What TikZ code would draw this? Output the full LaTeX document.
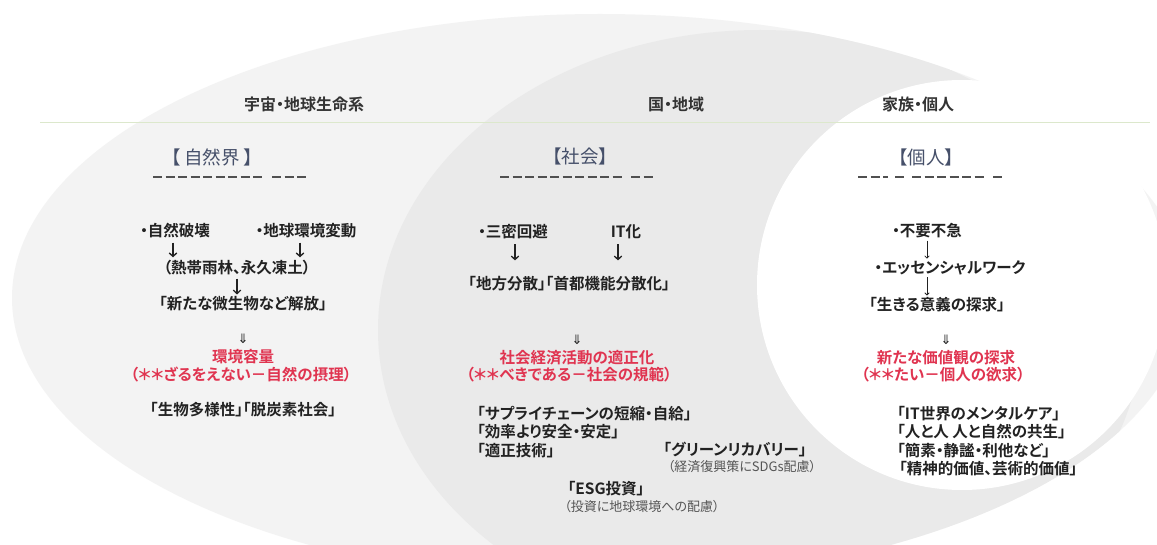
\documentclass[tikz,border=0pt]{standalone}
\usepackage{fontspec}
\setmainfont{Noto Sans CJK JP}[BoldFont={Noto Sans CJK JP Bold},RawFeature=+palt]
\newfontfamily\symfont{DejaVu Sans}
\usetikzlibrary{arrows.meta}
\definecolor{outerg}{HTML}{F3F3F3}
\definecolor{midg}{HTML}{EAEAEA}
\definecolor{txt}{HTML}{222222}
\definecolor{hdrc}{HTML}{333333}
\definecolor{ttlc}{HTML}{46506A}
\definecolor{redc}{RGB}{224,52,80}
\definecolor{graytxt}{HTML}{555555}
\definecolor{dashc}{HTML}{505050}
\definecolor{linec}{HTML}{DCE8CC}
\tikzset{
  body/.style={font=\fontsize{15.5}{18.5}\selectfont\bfseries, text=txt, inner sep=1pt},
  redt/.style={body, text=redc},
  hdr/.style={font=\fontsize{16}{18}\selectfont\bfseries, text=hdrc, inner sep=1pt},
  ttl/.style={font=\fontsize{18.5}{20}\selectfont, text=ttlc, inner sep=1pt},
  smallt/.style={font=\fontsize{13}{15}\selectfont, text=graytxt, inner sep=1pt},
  dbl/.style={font=\symfont\fontsize{13}{13}\selectfont, text=txt, inner sep=0pt},
  arr/.style={-{Straight Barb[length=3.5pt,width=7.5pt]}, line width=1.3pt, draw=txt},
  tarr/.style={-{To[length=3pt,width=5pt]}, line width=0.8pt, draw=txt},
  dsh/.style={line width=1.6pt, draw=dashc, dash pattern=on 9pt off 3.5pt}
}
\begin{document}
\begin{tikzpicture}[x=1pt,y=-1pt]
\useasboundingbox (0,0) rectangle (1157,545);
\fill[white] (0,0) rectangle (1157,545);
% background shapes
\fill[outerg] (600,298) ellipse [x radius=588pt, y radius=284pt];
\begin{scope}
  \clip (600,298) ellipse [x radius=588pt, y radius=284pt];
  \fill[midg] (760,330) ellipse [x radius=382pt, y radius=300pt];
\end{scope}
\fill[white] (962,285) circle [radius=205pt];
\draw[linec, line width=0.8pt] (40,122) -- (1150,122);

% headers
\node[hdr] (h1) at (304,104) {宇宙・地球生命系};
\node[hdr] (h2) at (676,104) {国・地域};
\node[hdr] (h3) at (918,104) {家族・個人};

% titles
\node[ttl] (t1) at (212,157) {【 自然界 】};
\node[ttl] (t2) at (580,156) {【社会】};
\node[ttl] (t3) at (926,157) {【個人】};
\draw[dsh] (153,177) -- (262,177);
\draw[dsh] (272,177) -- (306,177);
\draw[dsh] (500,177) -- (621.5,177);
\draw[dsh] (631,177) -- (652.5,177);
\draw[dsh] (858,177) -- (888,177);
\draw[dsh] (895,177) -- (904,177);
\draw[dsh] (912,177) -- (983.5,177);
\draw[dsh] (993,177) -- (1002,177);

% left column
\node[body] (a1) at (175,231) {・自然破壊};
\node[body] (a2) at (306,231) {・地球環境変動};
\node[body] (a3) at (237,268) {（熱帯雨林、永久凍土）};
\node[body] (a4) at (243,304) {「新たな微生物など解放」};
\node[dbl]  (a5) at (243,339) {⇓};
\node[redt] (a6) at (243,357) {環境容量};
\node[redt] (a7) at (241,375) {（＊＊ざるをえない－自然の摂理）};
\node[body] (a8) at (243,410) {「生物多様性」「脱炭素社会」};
\draw[arr, shorten <=3pt, shorten >=2pt] ([xshift=-2pt]a1.south) -- ([xshift=-2pt]a1.south |- a3.north);
\draw[arr, shorten <=3pt, shorten >=2pt] ([xshift=-6pt]a2.south) -- ([xshift=-6pt]a2.south |- a3.north);
\draw[arr, shorten <=2pt, shorten >=1pt] (a3.south) -- (a3.south |- a4.north);

% middle column
\node[body] (b1) at (513,232) {・三密回避};
\node[body] (b2) at (626,232) {IT化};
\node[body] (b3) at (569,284) {「地方分散」「首都機能分散化」};
\node[dbl]  (b4) at (577,340) {⇓};
\node[redt] (b5) at (577,358) {社会経済活動の適正化};
\node[redt] (b6) at (569,375) {（＊＊べきである－社会の規範）};
\node[body, anchor=north west, align=left] (b7) at (476,405)
  {「サプライチェーンの短縮・自給」\\「効率より安全・安定」\\「適正技術」};
\node[body] (b8) at (735,450) {「グリーンリカバリー」};
\node[smallt] (b9) at (742,467) {（経済復興策にSDGs配慮）};
\node[body] (b10) at (606,489) {「ESG投資」};
\node[smallt] (b11) at (642,507) {（投資に地球環境への配慮）};
\draw[arr, shorten <=4pt, shorten >=15pt] ([xshift=2pt]b1.south) -- ([xshift=2pt]b1.south |- b3.north);
\draw[arr, shorten <=4pt, shorten >=15pt] ([xshift=-8pt]b2.south) -- ([xshift=-8pt]b2.south |- b3.north);

% right column
\node[body] (c1) at (927,231) {・不要不急};
\node[body] (c2) at (950,268) {・エッセンシャルワーク};
\node[body] (c3) at (937,305) {「生きる意義の探求」};
\node[dbl]  (c4) at (946,340) {⇓};
\node[redt] (c5) at (946,358) {新たな価値観の探求};
\node[redt] (c6) at (943,375) {（＊＊たい－個人の欲求）};
\node[body, anchor=north west, align=left] (c7) at (896,405)
  {「IT世界のメンタルケア」\\「人と人\ 人と自然の共生」\\「簡素・静謐・利他など」\\\hspace{2pt}「精神的価値、芸術的価値」};
\draw[tarr, shorten <=1pt, shorten >=1pt] (c1.south) -- (c1.south |- c2.north);
\draw[tarr, shorten <=1pt, shorten >=1pt] (c1.south |- c2.south) -- (c1.south |- c3.north);
\end{tikzpicture}
\end{document}
